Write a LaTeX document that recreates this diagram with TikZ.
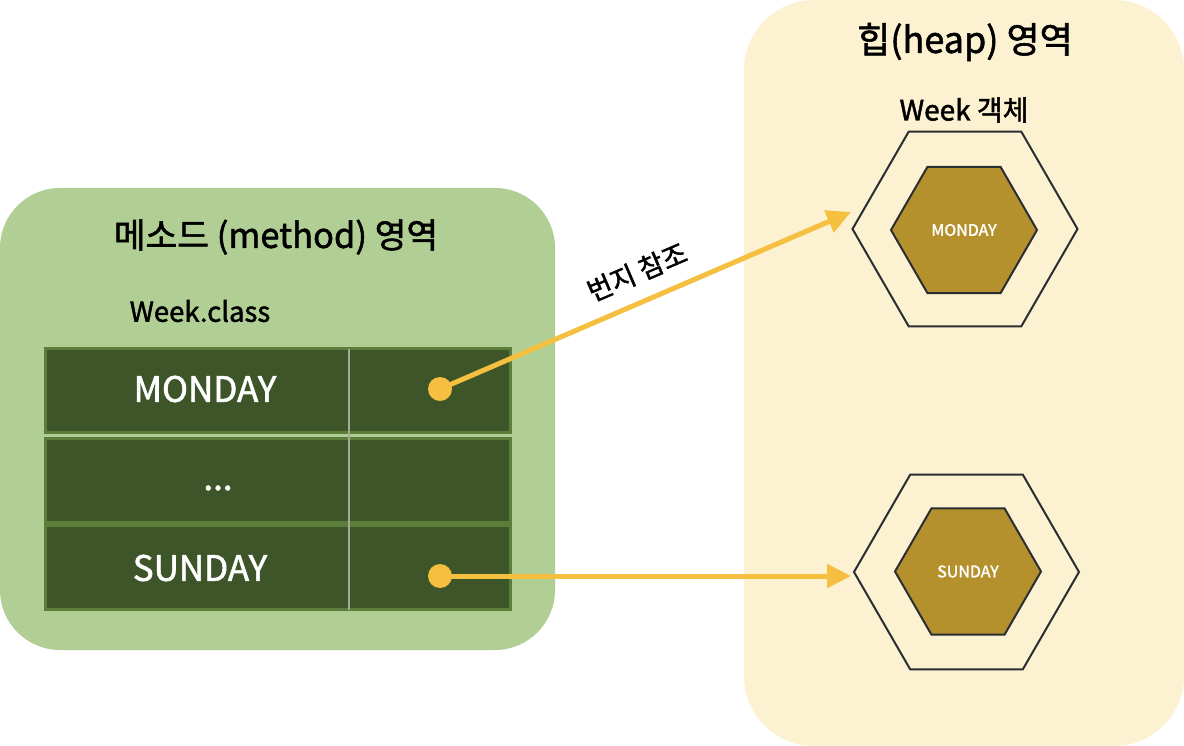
\documentclass[tikz,border=0pt]{standalone}
\usepackage{fontspec}
\setmainfont{Noto Sans CJK KR}[RawFeature={embolden=1.6}]
\usetikzlibrary{arrows.meta,shapes.geometric}
\definecolor{greenbg}{HTML}{B1CF95}
\definecolor{tabfill}{HTML}{3E5529}
\definecolor{tabedge}{HTML}{5B7E3A}
\definecolor{divgrey}{HTML}{A3AB98}
\definecolor{heapbg}{HTML}{FCF1D0}
\definecolor{hexfill}{HTML}{B5912E}
\definecolor{hexedge}{HTML}{2A2E33}
\definecolor{arrcol}{HTML}{F5BF40}
\tikzset{
  fsz/.style={font=\fontsize{#1}{#1}\selectfont},
  rowbox/.style={draw=tabedge, fill=tabfill, line width=3pt, minimum width=465pt, inner sep=0pt, outer sep=0pt},
  celltext/.style={text=white, fsz=35, inner sep=0pt},
  lbl/.style={text=black, inner sep=0pt},
  outhex/.style={regular polygon, regular polygon sides=6, draw=hexedge, line width=2pt, fill=heapbg, inner sep=0pt, outer sep=0pt},
  innhex/.style={regular polygon, regular polygon sides=6, draw=hexedge, line width=2pt, fill=hexfill, inner sep=0pt, outer sep=0pt, text=white, fsz=16},
  refdot/.style={circle, fill=arrcol, minimum size=24pt, inner sep=0pt, outer sep=0pt},
  refarrow/.style={draw=arrcol, line width=5pt, -{Triangle[length=24pt,width=23pt]}},
}
\begin{document}
\begin{tikzpicture}[x=1pt,y=-1pt]
\useasboundingbox (0,0) rectangle (1184,746);
% areas
\fill[white] (0,0) rectangle (1184,746);
\fill[greenbg, rounded corners=60pt] (0,188) rectangle (555,650);
\fill[heapbg, rounded corners=70pt] (744,0) rectangle (1184,746);
% titles
\node[lbl, fsz=34.5] (mtitle) at (276,237) {메소드 (method) 영역};
\node[lbl, fsz=27.5] (wclass) at (200,311) {Week.class};
\node[lbl, fsz=36] (htitle) at (965,42) {힙(heap) 영역};
\node[lbl, fsz=28] (wobj) at (964,110) {Week 객체};
% table
\node[rowbox, minimum height=83.5pt] (row1) at (277.5,390.25) {};
\node[rowbox, minimum height=84.5pt] (row2) at (277.5,480.25) {};
\node[rowbox, minimum height=84pt] (row3) at (277.5,567.5) {};
\draw[divgrey, line width=1.2pt] (349,348.5) -- (349,609.5);
\node[celltext] (tmon) at (205,389) {MONDAY};
\node[celltext] (tdots) at (218,488) {...};
\node[celltext] (tsun) at (200,568) {SUNDAY};
% hexagons
\node[outhex, minimum size=225pt] (monout) at (965,229) {};
\node[innhex, minimum size=146pt] (monin) at (964,230) {MONDAY};
\node[outhex, minimum size=225pt] (sunout) at (966.5,572) {};
\node[innhex, minimum size=146pt] (sunin) at (968,571.5) {SUNDAY};
% references
\node[refdot] (dmon) at (440,389) {};
\node[refdot] (dsun) at (440,576) {};
\coordinate (tipmon) at (851,212);
\coordinate (tipsun) at (851,576);
\draw[refarrow] (dmon.center) -- (tipmon);
\draw[refarrow] (dsun.center) -- (tipsun);
\node[lbl, fsz=27, rotate=23.2] (reflbl) at (637,272) {번지 참조};
\end{tikzpicture}
\end{document}
